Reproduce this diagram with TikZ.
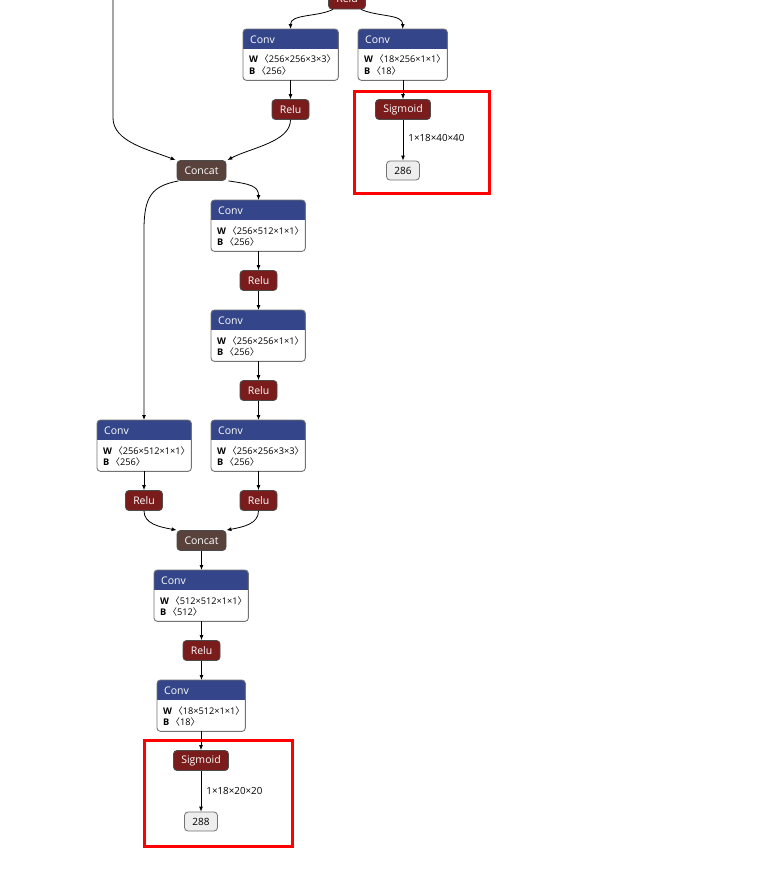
\documentclass[tikz,border=0pt]{standalone}
\usepackage{fontspec}
\setmainfont{Open Sans}[BoldFont={Open Sans Bold}]
\newfontfamily\cjk{Noto Sans CJK SC}
\usetikzlibrary{arrows.meta,calc}
\definecolor{convblue}{HTML}{344689}
\definecolor{relured}{HTML}{7A1C1C}
\definecolor{concatbrown}{HTML}{59423B}
\definecolor{ioface}{HTML}{EEEEEE}
\tikzset{
  conv/.style={fill=white, draw=none, inner sep=0pt, minimum height=51pt},
  convframe/.style={draw=black!55, line width=0.9pt, rounded corners=3.5pt},
  ctitle/.style={text=white, font=\fontsize{10.5}{12}\selectfont, inner sep=0pt},
  attr/.style={text=black, font=\fontsize{9.2}{10}\selectfont, inner sep=0pt},
  op/.style={rounded corners=3.5pt, draw=black!70, line width=0.8pt, text=white,
    font=\fontsize{10.5}{12}\selectfont, minimum height=20pt, inner sep=0pt},
  relu/.style={op, fill=relured, minimum width=37pt},
  sigm/.style={op, fill=relured, minimum width=55pt},
  concat/.style={op, fill=concatbrown, minimum width=49pt},
  io/.style={rounded corners=3.5pt, draw=black!55, line width=0.8pt, fill=ioface,
    font=\fontsize{10}{12}\selectfont, minimum width=33pt, minimum height=19pt, inner sep=0pt},
  edge/.style={draw=black, line width=0.8pt, -{Latex[length=5pt,width=4pt]}},
  elabel/.style={font=\fontsize{9.8}{11}\selectfont, inner sep=0pt, anchor=west},
  redbox/.style={draw=red, line width=3pt},
}
\newcommand\convnode[5]{%
  \node[conv, minimum width=#4pt, anchor=north west] (#1) at (#2,#3) {};
  \begin{scope}
    \clip[rounded corners=3.5pt] (#1.north west) rectangle (#1.south east);
    \fill[convblue] (#1.north west) rectangle ($(#1.north east)+(0,20)$);
  \end{scope}
  \draw[convframe] (#1.north west) rectangle (#1.south east);
  \node[ctitle, anchor=west] (#1t) at ($(#1.north west)+(7,10.5)$) {Conv};
  \node[attr, anchor=west] (#1w) at ($(#1.north west)+(6,30.5)$) {\textbf{W}\kern1.5pt{\cjk 〈}#5{\cjk 〉}};
}
\newcommand\bline[2]{%
  \node[attr, anchor=west] (#1b) at ($(#1.north west)+(6,41.5)$) {\textbf{B}\kern1.5pt{\cjk 〈}#2{\cjk 〉}};
}
\begin{document}
\begin{tikzpicture}[x=1pt,y=-1pt]
\useasboundingbox (0,0) rectangle (784,876);
\clip (0,0) rectangle (784,876);
\fill[white] (0,0) rectangle (784,876);

% red highlight boxes
\draw[redbox] (354.5,91.5) rectangle (489,193);
\draw[redbox] (144.5,740.5) rectangle (292,846);

% nodes
\node[relu] (r0) at (347,-1) {Relu};
\convnode{ca}{243}{29}{95}{256×256×3×3}\bline{ca}{256}
\convnode{cb}{358}{29}{89}{18×256×1×1}\bline{cb}{18}
\node[relu] (ra) at (290.5,109.5) {Relu};
\node[sigm] (sa) at (403,109.5) {Sigmoid};
\node[io] (o286) at (403,170.5) {286};
\node[concat] (k1) at (201.5,170.5) {Concat};
\convnode{cc}{211}{200}{94}{256×512×1×1}\bline{cc}{256}
\node[relu] (rc) at (258.5,280.5) {Relu};
\convnode{cd}{211}{310}{94}{256×256×1×1}\bline{cd}{256}
\node[relu] (rd) at (258.5,390.5) {Relu};
\convnode{ce}{211}{420}{94}{256×256×3×3}\bline{ce}{256}
\node[relu] (re) at (258.5,500.5) {Relu};
\convnode{cf}{97}{420}{94}{256×512×1×1}\bline{cf}{256}
\node[relu] (rf) at (144,500.5) {Relu};
\node[concat] (k2) at (201.5,540.5) {Concat};
\convnode{cg}{154}{570}{94}{512×512×1×1}\bline{cg}{512}
\node[relu] (rg) at (201.5,650.5) {Relu};
\convnode{ch}{157}{680}{88}{18×512×1×1}\bline{ch}{18}
\node[sigm] (sb) at (201,760.5) {Sigmoid};
\node[io] (o288) at (201,821.5) {288};

\coordinate (lt) at (113,-5);

% edges
\draw[edge] ([xshift=-14pt]r0.south) .. controls (318,17) and (290,14) .. (ca.north);
\draw[edge] ([xshift=14pt]r0.south) .. controls (378,17) and (403,14) .. (cb.north);
\draw[edge] (ca.south -| ra) -- (ra.north);
\draw[edge] (cb.south -| sa) -- (sa.north);
\draw[edge] (sa) -- node[elabel, pos=0.45, xshift=5pt] (l286) {1×18×40×40} (o286.north);
\draw[edge] (ra.south) .. controls (290.5,142) and (250,148) .. ([xshift=1pt]k1.north east);
\draw[edge] (lt) -- (113,118) .. controls (113,142) and (150,150) .. ([xshift=-1pt]k1.north west);
\draw[edge] ([xshift=2pt]k1.south east) .. controls (250,184) and (258.5,186) .. (cc.north -| rc);
\draw[edge] ([xshift=2pt]k1.south west) .. controls (152,186) and (144,196) .. (144,230) -- (cf.north -| rf);
\draw[edge] (cc.south -| rc) -- (rc.north);
\draw[edge] (rc.south) -- (cd.north -| rc);
\draw[edge] (cd.south -| rd) -- (rd.north);
\draw[edge] (rd.south) -- (ce.north -| rd);
\draw[edge] (ce.south -| re) -- (re.north);
\draw[edge] (cf.south -| rf) -- (rf.north);
\draw[edge] (rf.south) .. controls (144,524) and (160,527) .. (k2.north west);
\draw[edge] (re.south) .. controls (258.5,524) and (243,527) .. (k2.north east);
\draw[edge] (k2.south) -- (cg.north -| k2);
\draw[edge] (cg.south -| rg) -- (rg.north);
\draw[edge] (rg.south) -- (ch.north -| rg);
\draw[edge] (ch.south -| sb) -- (sb.north);
\draw[edge] (sb) -- node[elabel, pos=0.5, xshift=5pt] (l288) {1×18×20×20} (o288.north);
\end{tikzpicture}
\end{document}
